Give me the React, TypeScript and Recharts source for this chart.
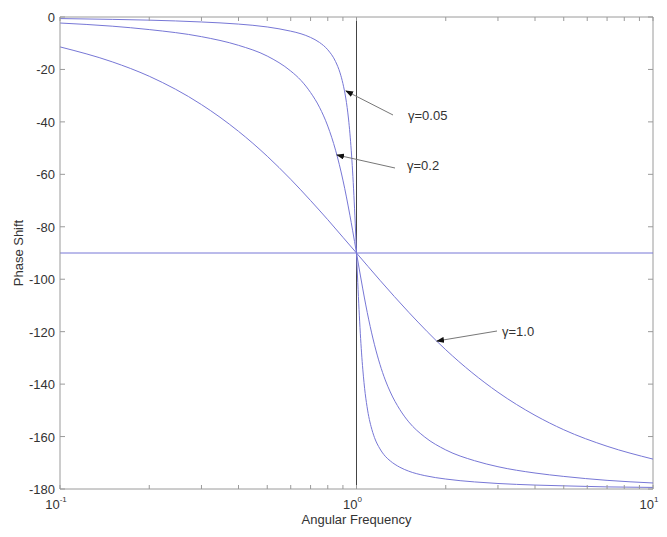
import React from "react";
import { LineChart, Line, XAxis, YAxis, ReferenceLine } from "recharts";

// phase shift (deg), one frequency list per damping value
const freqG005 = [0.1, 0.15, 0.2, 0.3, 0.4, 0.5, 0.6, 0.65, 0.7, 0.75, 0.8, 0.85, 0.88, 0.9, 0.92, 0.93, 0.94, 0.95, 0.96, 0.97, 0.98, 0.99, 1.0, 1.01, 1.02, 1.03, 1.04, 1.05, 1.06, 1.07, 1.08, 1.1, 1.12, 1.15, 1.2, 1.25, 1.3, 1.4, 1.5, 1.7, 2, 2.5, 3, 4, 5, 7, 10];
const phaseG005 = [-0.6, -0.9, -1.2, -1.9, -2.7, -3.8, -5.4, -6.4, -7.8, -9.7, -12.5, -17.0, -21.3, -25.4, -30.9, -34.5, -38.9, -44.3, -50.8, -58.7, -68.0, -78.6, -90, -101.3, -111.6, -120.6, -128.1, -134.3, -139.4, -143.6, -147.0, -152.4, -156.2, -160.4, -164.7, -167.5, -169.3, -171.7, -173.2, -174.9, -176.2, -177.3, -177.9, -178.5, -178.8, -179.2, -179.4];

const freqG02 = [0.1, 0.15, 0.2, 0.3, 0.4, 0.5, 0.6, 0.65, 0.7, 0.75, 0.8, 0.85, 0.9, 0.95, 0.97, 1.0, 1.03, 1.05, 1.1, 1.15, 1.2, 1.25, 1.3, 1.4, 1.5, 1.7, 2, 2.5, 3, 4, 5, 7, 10];
const phaseG02 = [-2.3, -3.5, -4.8, -7.5, -10.8, -14.9, -20.6, -24.2, -28.8, -34.4, -41.6, -50.8, -62.2, -75.6, -81.3, -90, -98.4, -103.7, -115.5, -125.0, -132.5, -138.4, -143.0, -149.7, -154.4, -160.2, -165.1, -169.2, -171.5, -173.9, -175.2, -176.7, -177.7];

const freqG1 = [0.1, 0.15, 0.2, 0.3, 0.4, 0.5, 0.6, 0.7, 0.8, 0.9, 1.0, 1.2, 1.5, 2, 3, 4, 5, 7, 10];
const phaseG1 = [-11.4, -17.1, -22.6, -33.4, -43.6, -53.1, -61.9, -70.0, -77.3, -84.0, -90, -100.4, -112.6, -126.9, -143.1, -151.9, -157.4, -163.7, -168.6];

const xTicks = [0.1, 0.2, 0.3, 0.4, 0.5, 0.6, 0.7, 0.8, 0.9, 1, 2, 3, 4, 5, 6, 7, 8, 9, 10];
const xLabels: Record<number, string> = { 0.1: "-1", 1: "0", 10: "1" };
const yTicks = [0, -20, -40, -60, -80, -100, -120, -140, -160, -180];

const W = 667;
const H = 537;
const LEFT = 60;
const RIGHT = 653;
const TOP = 17;
const BOTTOM = 489;

const CURVE = "#7777d6";
const FRAME = "#9a9a9a";
const TEXT = "#333";
const FONT = "'Liberation Sans', Arial, sans-serif";

const toSeries = (f: number[], p: number[]) => f.map((w, i) => ({ w, phase: p[i] }));

function XTick(props: any) {
  const { x, payload } = props;
  const exp = xLabels[payload.value];
  return (
    <g>
      <line x1={x} x2={x} y1={BOTTOM} y2={BOTTOM - 4} stroke={FRAME} />
      <line x1={x} x2={x} y1={TOP} y2={TOP + 4} stroke={FRAME} />
      {exp !== undefined && (
        <text x={x - 4} y={509} textAnchor="middle" fontSize={13} fill={TEXT} fontFamily={FONT}>
          10
          <tspan dy={-7} fontSize={8}>{exp}</tspan>
        </text>
      )}
    </g>
  );
}

function YTick(props: any) {
  const { y, payload } = props;
  return (
    <g>
      <line x1={LEFT} x2={LEFT + 5} y1={y} y2={y} stroke={FRAME} />
      <line x1={RIGHT} x2={RIGHT - 5} y1={y} y2={y} stroke={FRAME} />
      <text x={55} y={y + 5} textAnchor="end" fontSize={13} fill={TEXT} fontFamily={FONT}>
        {payload.value}
      </text>
    </g>
  );
}

function Annotations() {
  const notes = [
    { label: "γ=0.05", tx: 408, ty: 120, x1: 393, y1: 115, x2: 346, y2: 91 },
    { label: "γ=0.2", tx: 407, ty: 170, x1: 395, y1: 168, x2: 337, y2: 155 },
    { label: "γ=1.0", tx: 502, ty: 336, x1: 497, y1: 331, x2: 437, y2: 341 },
  ];
  return (
    <svg width={W} height={H} style={{ position: "absolute", left: 0, top: 0, pointerEvents: "none" }}>
      <defs>
        <marker id="head" markerWidth="8" markerHeight="6" refX="7" refY="3" orient="auto" markerUnits="userSpaceOnUse">
          <path d="M0,0 L8,3 L0,6 Z" fill="#111" />
        </marker>
      </defs>
      {notes.map((n) => (
        <g key={n.label}>
          <line x1={n.x1} y1={n.y1} x2={n.x2} y2={n.y2} stroke="#777" strokeWidth={1} markerEnd="url(#head)" />
          <text x={n.tx} y={n.ty} fontSize={13} fill={TEXT} fontFamily={FONT}>
            {n.label}
          </text>
        </g>
      ))}
    </svg>
  );
}

export default function App() {
  return (
    <div style={{ position: "absolute", left: 0, top: 0, width: W, height: H, background: "#fff" }}>
      <LineChart width={W} height={H} margin={{ top: TOP, right: W - RIGHT, left: 0, bottom: 0 }}>
        <XAxis
          dataKey="w"
          type="number"
          scale="log"
          domain={[0.1, 10]}
          ticks={xTicks}
          allowDataOverflow
          height={H - BOTTOM}
          stroke={FRAME}
          tickLine={false}
          tick={<XTick />}
          interval={0}
        />
        <YAxis
          type="number"
          domain={[-180, 0]}
          ticks={yTicks}
          width={LEFT}
          stroke={FRAME}
          tickLine={false}
          tick={<YTick />}
          interval={0}
        />
        <ReferenceLine y={0} stroke={FRAME} />
        <ReferenceLine x={10} stroke={FRAME} />
        <ReferenceLine y={-90} stroke={CURVE} />
        <ReferenceLine x={1} stroke="#444" />
        <Line data={toSeries(freqG005, phaseG005)} dataKey="phase" type="monotone" stroke={CURVE} strokeWidth={1} dot={false} isAnimationActive={false} />
        <Line data={toSeries(freqG02, phaseG02)} dataKey="phase" type="monotone" stroke={CURVE} strokeWidth={1} dot={false} isAnimationActive={false} />
        <Line data={toSeries(freqG1, phaseG1)} dataKey="phase" type="monotone" stroke={CURVE} strokeWidth={1} dot={false} isAnimationActive={false} />
      </LineChart>
      <div style={{ position: "absolute", left: LEFT, width: RIGHT - LEFT, top: 512, textAlign: "center", fontSize: 13, color: TEXT, fontFamily: FONT }}>
        Angular Frequency
      </div>
      <div
        style={{
          position: "absolute",
          left: 18,
          top: (TOP + BOTTOM) / 2,
          transform: "translate(-50%, -50%) rotate(-90deg)",
          whiteSpace: "nowrap",
          fontSize: 13,
          color: TEXT,
          fontFamily: FONT,
        }}
      >
        Phase Shift
      </div>
      <Annotations />
    </div>
  );
}
